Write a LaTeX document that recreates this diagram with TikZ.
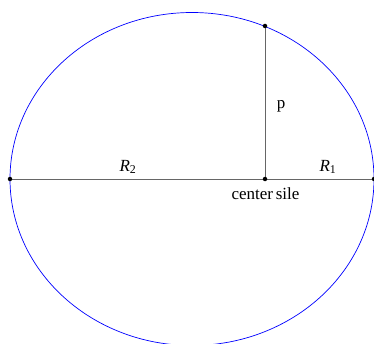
\documentclass[tikz,border=0pt]{standalone}
\usepackage{fontspec}
\setmainfont{Liberation Serif}
\begin{document}
\begin{tikzpicture}[x=1pt,y=1pt,
  seg/.style={draw=black!60,line width=0.9pt},
  dot/.style={circle,fill=black,inner sep=0pt,minimum size=4.5pt},
  lbl/.style={font=\fontsize{17}{20}\selectfont,inner sep=0pt,anchor=base}]
\useasboundingbox (0,0) rectangle (374,343);
\clip (0,0) rectangle (374,343);
\draw[blue,line width=0.7pt] (192,164) ellipse [x radius=182, y radius=166.5];
\coordinate (L) at (10,164);
\coordinate (F) at (265,164);
\coordinate (R) at (374,164);
\coordinate (T) at (265,317);
\draw[seg] (L) -- (R);
\draw[seg] (F) -- (T);
\node[dot] (dL) at (L) {};
\node[dot] (dF) at (F) {};
\node[dot] (dR) at (R) {};
\node[dot] (dT) at (T) {};
\node[lbl] (r2) at (128,172) {\textit{R}\textsubscript{2}};
\node[lbl] (r1) at (328,172) {\textit{R}\textsubscript{1}};
\node[lbl] (p) at (281,234) {p};
\node[lbl] (c) at (265.5,144) {center\,sile};
\end{tikzpicture}
\end{document}
